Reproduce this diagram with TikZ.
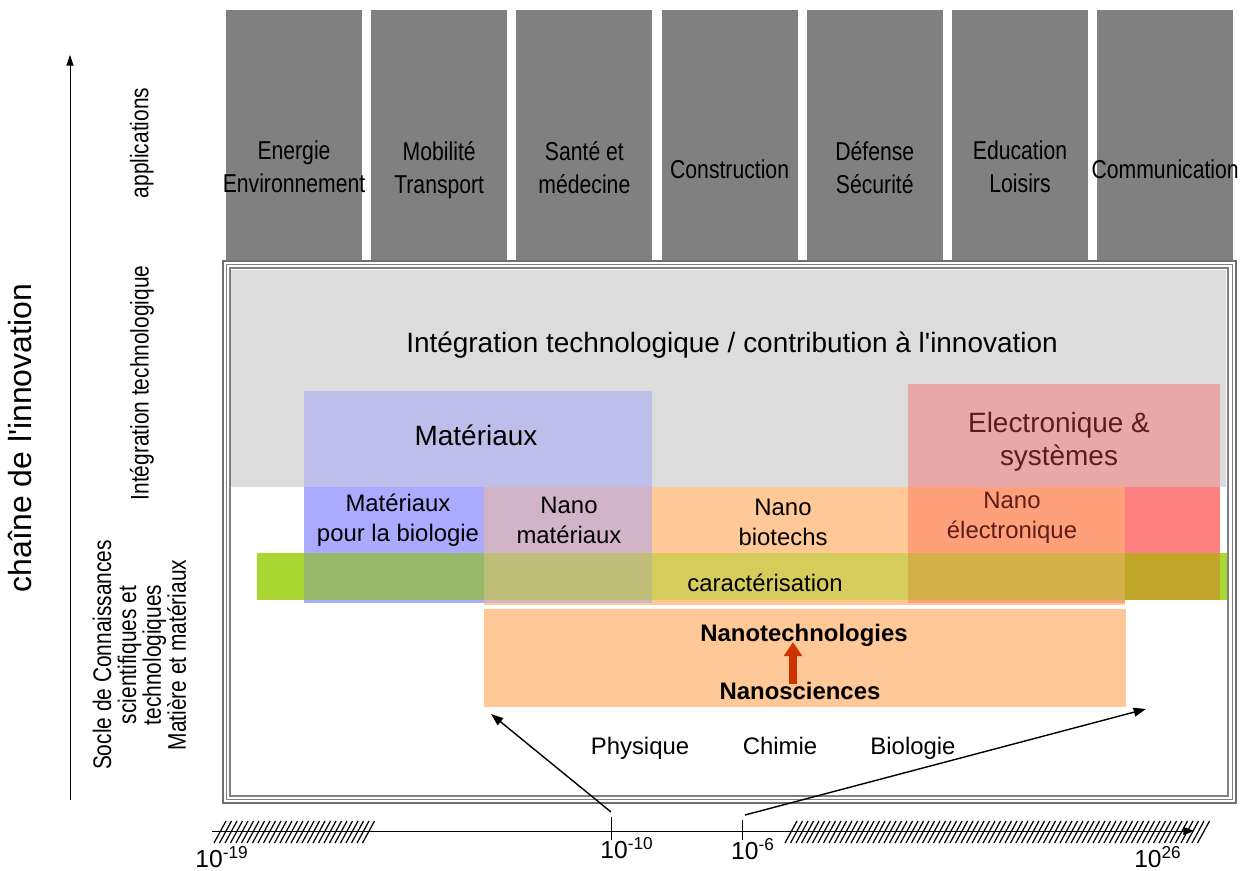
\documentclass[tikz,border=0pt]{standalone}
\usepackage{fontspec}
\setmainfont{Liberation Sans}
\newfontfamily\narrowsf[FakeStretch=0.82]{Liberation Sans}
\usetikzlibrary{arrows.meta}

\definecolor{colgray}{RGB}{128,128,128}
\definecolor{lightbg}{RGB}{220,220,220}
\definecolor{matgray}{RGB}{190,190,235}
\definecolor{matblue}{RGB}{170,170,255}
\definecolor{mauve}{RGB}{210,180,200}
\definecolor{nanoorange}{RGB}{255,200,150}
\definecolor{salmon}{RGB}{255,160,122}
\definecolor{elecred}{RGB}{255,128,128}
\definecolor{elecgray}{RGB}{232,168,168}
\definecolor{grn}{RGB}{170,215,50}
\definecolor{grnblue}{RGB}{152,184,106}
\definecolor{grnmauve}{RGB}{190,190,120}
\definecolor{grnorange}{RGB}{214,204,92}
\definecolor{grnsalmon}{RGB}{212,175,74}
\definecolor{grnred}{RGB}{191,166,40}
\definecolor{darkred}{RGB}{92,28,28}
\definecolor{arrowred}{RGB}{204,51,0}
\definecolor{framegray}{RGB}{110,110,110}

\begin{document}
\begin{tikzpicture}[x=0.02cm,y=-0.02cm,
        every node/.style={execute at begin node=\strut,
            execute at end node=\strut},
        collabel/.style={font=\narrowsf\fontsize{14.7}{18.7}\selectfont,
            align=center,inner sep=0pt},
        lbl/.style={font=\fontsize{13.6}{17}\selectfont,align=center,
            inner sep=0pt},
        big/.style={font=\fontsize{15.9}{19.3}\selectfont,align=center,
            inner sep=0pt},
        side/.style={rotate=90,font=\narrowsf\fontsize{14.5}{14.2}\selectfont,
            align=center,inner sep=0pt},
        tick/.style={font=\fontsize{14}{16}\selectfont,inner sep=0pt},
        hatch/.style={line width=0.7pt}]
\useasboundingbox (0,0) rectangle (1255,871);

% application columns
\foreach \txt [count=\i from 0] in {{Energie\\Environnement},
        {Mobilit\'e\\Transport},{Sant\'e et\\m\'edecine},{Construction},
        {D\'efense\\S\'ecurit\'e},{Education\\Loisirs},{Communication}}
{
    \fill[colgray] ({226+145.2*\i},10) rectangle ++(136,252);
    \node[collabel] (app\i) at ({294+145.2*\i},172) {\txt};
}

% frame
\fill[white] (223,261) rectangle (1236,803);
\draw[framegray,line width=1pt] (223,261) rectangle (1236,803);
\draw[gray,line width=0.6pt] (226.5,264.5) rectangle (1232.5,799.5);
\draw[gray,line width=0.6pt] (230,268) rectangle (1228,796);

% integration area
\fill[lightbg] (231,270) rectangle (1226,487);
\fill[matgray] (304,391) rectangle (652,487);
\fill[elecgray] (908,384) rectangle (1220,487);

% nano band
\fill[matblue] (304,487) rectangle (484,603);
\fill[mauve] (484,487) rectangle (652,605);
\fill[nanoorange] (652,487) rectangle (908,605);
\fill[salmon] (908,487) rectangle (1125,605);
\fill[elecred] (1125,487) rectangle (1220,600);
\fill[nanoorange] (484,603) rectangle (1125,605);

% caracterisation band
\fill[grn] (257,553) rectangle (1227,600);
\fill[grnblue] (304,553) rectangle (484,600);
\fill[grnmauve] (484,553) rectangle (652,600);
\fill[grnorange] (652,553) rectangle (908,600);
\fill[grnsalmon] (908,553) rectangle (1125,600);
\fill[grnred] (1125,553) rectangle (1220,600);

% nanosciences box
\fill[nanoorange] (484,609) rectangle (1126,707);

\node[big] (integ) at (732,346)
    {Int\'egration technologique / contribution \`a
    l\textquotesingle innovation};
\node[big] (mat) at (476,439) {Mat\'eriaux};
\node[big,text=darkred] (elec) at (1059,444) {Electronique \&\\syst\`emes};
\node[lbl] (matbio) at (398,522) {Mat\'eriaux\\pour la biologie};
\node[lbl] (nanomat) at (569,525) {Nano\\mat\'eriaux};
\node[lbl] (nanobio) at (783,527) {Nano\\biotechs};
\node[lbl,text=darkred] (nanoelec) at (1012,520) {Nano\\\'electronique};
\node[lbl] (carac) at (765,586) {caract\'erisation};
\node[lbl,font=\bfseries\fontsize{13.6}{17}\selectfont] (ntech) at (804,636)
    {Nanotechnologies};
\node[lbl,font=\bfseries\fontsize{13.6}{17}\selectfont] (nsci) at (800,694)
    {Nanosciences};
\coordinate (nsciup) at (793,684);
\coordinate (ntechdn) at (793,642);
\draw[arrowred,line width=4.3pt,-{Triangle[length=8pt,width=10pt]}]
    (nsciup) -- (ntechdn);

\node[lbl] (phys) at (640,749) {Physique};
\node[lbl] (chim) at (780,749) {Chimie};
\node[lbl] (bio) at (913,749) {Biologie};

% scale axis
\foreach \x in {214,219.5,...,366}
    \draw[hatch] (\x,843) -- ++(12,-22);
\foreach \x in {785,790.5,...,1200}
    \draw[hatch] (\x,843) -- ++(12,-22);
\coordinate (axl) at (212,831);
\coordinate (axr) at (1194,831);
\draw[-{Triangle[length=6pt,width=4.5pt]}] (axl) -- (axr);
\draw (611,817) -- (611,840);
\draw (742,820) -- (742,840);
\node[tick] (m19) at (222,861) {10\textsuperscript{-19}};
\node[tick] (m10) at (627,852) {10\textsuperscript{-10}};
\node[tick] (m6) at (753,853) {10\textsuperscript{-6}};
\node[tick] (p26) at (1158,861) {10\textsuperscript{26}};

% arrows from the nanometre scale
\coordinate (nmstart) at (611,812);
\coordinate (nmend) at (491,714);
\coordinate (umstart) at (745,815);
\coordinate (umend) at (1146,709);
\draw[line width=0.8pt,-{Triangle[length=7pt,width=5pt]}] (nmstart) -- (nmend);
\draw[line width=0.8pt,-{Triangle[length=7pt,width=5pt]}] (umstart) -- (umend);

% innovation chain
\coordinate (chlow) at (70,800);
\coordinate (chtop) at (70,55);
\draw[-{Triangle[length=6pt,width=4pt]}] (chlow) -- (chtop);
\node[rotate=90,font=\fontsize{18.2}{21}\selectfont] (chain) at (24,438)
    {cha\^ine de l\textquotesingle innovation};
\node[side] (lapp) at (143,143) {applications};
\node[side] (lint) at (143,383) {Int\'egration technologique};
\node[side] (lsoc) at (143,655) {Socle de Connaissances\\scientifiques et\\
    technologiques\\Mati\`ere et mat\'eriaux};
\end{tikzpicture}
\end{document}
